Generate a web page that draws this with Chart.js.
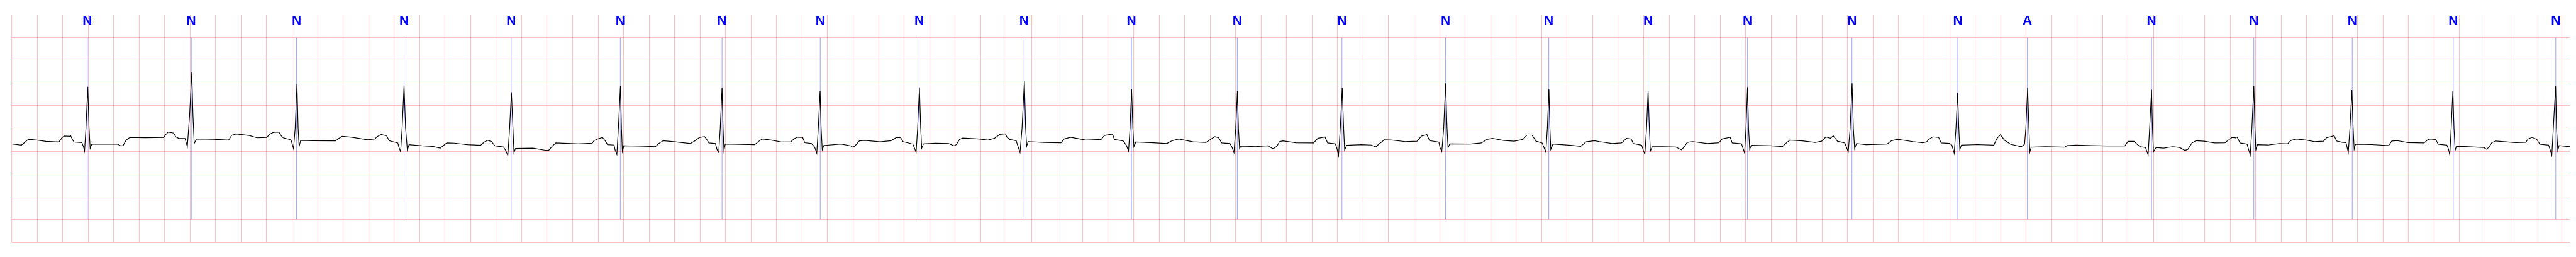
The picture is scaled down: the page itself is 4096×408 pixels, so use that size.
<!DOCTYPE html>
<html>
<head>
<meta charset="utf-8">
<title>ECG strip</title>
<script src="https://cdn.jsdelivr.net/npm/chart.js@4/dist/chart.umd.min.js"></script>
<style>
  html, body { margin: 0; padding: 0; background: #fff; }
  canvas { display: block; }
</style>
</head>
<body>
<canvas id="ecg" width="4096" height="408" style="width:4096px;height:408px"></canvas>
<script>
// beat annotations (time in s, symbol)
const annTimes = [0.593, 1.409, 2.235, 3.078, 3.918, 4.774, 5.572, 6.342, 7.118, 7.941,
  8.783, 9.613, 10.434, 11.247, 12.056, 12.835, 13.615, 14.434, 15.264, 15.810,
  16.784, 17.586, 18.358, 19.150, 19.954];
const annLabels = ['N','N','N','N','N','N','N','N','N','N','N','N','N','N','N','N','N','N','N','A',
  'N','N','N','N','N'];

// grid: 0.2 s columns, 0.5 mV rows
const xGrid = [];
for (let k = 0; k <= 100; k++) xGrid.push(+(k * 0.2).toFixed(1));
const yGrid = [-2.5, -2, -1.5, -1, -0.5, 0, 0.5, 1, 1.5, 2];

// signal, [time s, mV]
const ecg = [
  [0.000,-0.340],[0.077,-0.365],[0.107,-0.296],[0.131,-0.238],[0.197,-0.256],[0.269,-0.282],[0.371,-0.296],[0.395,-0.202],[0.413,-0.166],[0.455,-0.173],[0.463,-0.159],[0.479,-0.256],[0.491,-0.296],[0.551,-0.311],[0.563,-0.401],[0.572,-0.499],[0.583,0.014],[0.597,0.918],[0.607,0.014],[0.616,-0.437],[0.628,-0.347],[0.832,-0.347],[0.856,-0.383],[0.874,-0.376],[0.898,-0.256],[0.928,-0.195],[1.048,-0.202],[1.192,-0.195],[1.210,-0.130],[1.228,-0.079],[1.270,-0.101],[1.288,-0.184],[1.312,-0.220],[1.360,-0.220],[1.378,-0.401],[1.396,0.303],[1.413,1.250],[1.422,0.303],[1.432,-0.329],[1.450,-0.231],[1.588,-0.238],[1.702,-0.256],[1.726,-0.148],[1.762,-0.120],
  [1.865,-0.154],[1.925,-0.205],[2.002,-0.197],[2.022,-0.129],[2.053,-0.086],[2.096,-0.078],[2.113,-0.154],[2.130,-0.205],[2.182,-0.242],[2.193,-0.268],[2.211,-0.444],[2.224,0.010],[2.238,0.982],[2.247,0.010],[2.255,-0.394],[2.267,-0.263],[2.361,-0.268],[2.541,-0.273],[2.566,-0.217],[2.592,-0.172],[2.669,-0.192],[2.789,-0.247],[2.849,-0.230],[2.866,-0.179],[2.900,-0.129],[2.943,-0.167],[2.960,-0.268],[3.029,-0.318],[3.037,-0.407],[3.051,-0.513],[3.063,0.010],[3.078,0.949],[3.090,0.010],[3.104,-0.475],[3.117,-0.356],[3.217,-0.381],[3.302,-0.394],[3.362,-0.432],[3.384,-0.381],[3.413,-0.318],[3.473,-0.323],[3.575,-0.356],[3.678,-0.369],[3.704,-0.306],[3.733,-0.260],[3.764,-0.288],[3.790,-0.381],[3.858,-0.407],[3.875,-0.482],[3.892,-0.596],[3.906,0.010],[3.920,0.798],[3.932,0.010],[3.940,-0.533],[3.952,-0.439],[4.089,-0.432],[4.192,-0.482],[4.212,-0.482],[4.243,-0.381],[4.268,-0.318],[4.445,-0.338],
  [4.554,-0.323],[4.568,-0.268],[4.597,-0.230],[4.634,-0.197],[4.656,-0.273],[4.674,-0.356],[4.725,-0.364],[4.733,-0.470],[4.747,-0.571],[4.759,0.010],[4.775,0.944],[4.783,0.010],[4.790,-0.508],[4.802,-0.381],[4.930,-0.389],[5.050,-0.399],[5.076,-0.331],[5.110,-0.268],[5.204,-0.293],[5.324,-0.331],[5.354,-0.280],[5.396,-0.197],[5.435,-0.179],[5.452,-0.242],[5.469,-0.318],[5.520,-0.331],[5.532,-0.457],[5.546,-0.528],[5.558,0.010],[5.572,0.899],[5.580,0.010],[5.587,-0.482],[5.597,-0.343],[5.717,-0.348],[5.828,-0.356],[5.854,-0.293],[5.888,-0.230],[5.957,-0.255],[6.042,-0.298],[6.111,-0.293],[6.136,-0.230],[6.162,-0.192],[6.204,-0.197],[6.221,-0.313],[6.273,-0.331],[6.298,-0.407],[6.315,-0.545],[6.327,0.010],[6.341,0.831],[6.349,0.010],[6.358,-0.470],[6.370,-0.374],[6.504,-0.343],[6.581,-0.381],[6.598,-0.414],[6.615,-0.381],[6.649,-0.273],[6.692,-0.263],[6.812,-0.293],[6.897,-0.268],[6.940,-0.197],[6.974,-0.205],[6.991,-0.288],[7.068,-0.343],[7.080,-0.420],
  [7.094,-0.525],[7.106,0.010],[7.120,0.907],[7.130,0.010],[7.138,-0.432],[7.152,-0.338],[7.246,-0.323],[7.349,-0.331],[7.392,-0.381],[7.409,-0.356],[7.434,-0.242],[7.460,-0.210],[7.588,-0.230],[7.657,-0.255],[7.708,-0.217],[7.751,-0.129],[7.794,-0.116],[7.807,-0.192],[7.828,-0.242],[7.879,-0.268],[7.893,-0.394],[7.909,-0.528],[7.925,0.010],[7.943,1.040],[7.953,0.010],[7.961,-0.389],[7.973,-0.288],[8.101,-0.306],[8.230,-0.313],[8.255,-0.230],[8.306,-0.192],[8.425,-0.255],[8.545,-0.242],[8.571,-0.154],[8.615,-0.129],[8.635,-0.125],[8.649,-0.242],[8.717,-0.273],[8.743,-0.369],[8.760,-0.495],[8.772,0.010],[8.784,0.874],[8.794,0.010],[8.802,-0.399],[8.817,-0.298],[8.957,-0.313],[9.060,-0.331],[9.102,-0.268],[9.154,-0.230],[9.265,-0.293],[9.368,-0.306],[9.402,-0.242],[9.436,-0.179],[9.467,-0.205],[9.491,-0.318],[9.556,-0.331],[9.573,-0.419],[9.587,-0.533],[9.601,0.010],[9.614,0.823],[9.622,0.010],[9.631,-0.439],[9.641,-0.389],[9.758,-0.399],
  [9.851,-0.381],[9.894,-0.444],[9.923,-0.394],[9.945,-0.288],[9.971,-0.273],[10.074,-0.313],[10.211,-0.318],[10.245,-0.217],[10.301,-0.187],[10.322,-0.318],[10.382,-0.338],[10.395,-0.444],[10.407,-0.596],[10.421,0.010],[10.436,0.889],[10.447,0.010],[10.455,-0.475],[10.471,-0.369],[10.587,-0.356],[10.664,-0.364],[10.698,-0.407],[10.724,-0.343],[10.767,-0.247],[10.827,-0.255],[10.929,-0.288],[11.023,-0.280],[11.057,-0.167],[11.100,-0.136],[11.121,-0.268],[11.194,-0.298],[11.203,-0.419],[11.217,-0.508],[11.232,0.010],[11.247,0.995],[11.258,0.010],[11.266,-0.424],[11.280,-0.338],[11.442,-0.343],[11.528,-0.318],[11.571,-0.242],[11.613,-0.217],[11.699,-0.263],[11.784,-0.280],[11.853,-0.242],[11.884,-0.146],[11.925,-0.146],[11.956,-0.280],[12.004,-0.318],[12.019,-0.419],[12.033,-0.520],[12.045,0.010],[12.057,0.874],[12.065,0.010],[12.072,-0.457],[12.089,-0.343],[12.229,-0.369],[12.306,-0.394],[12.349,-0.293],[12.414,-0.268],
  [12.453,-0.288],[12.553,-0.331],[12.627,-0.318],[12.666,-0.217],[12.702,-0.230],[12.719,-0.331],[12.785,-0.369],[12.798,-0.482],[12.810,-0.566],[12.823,0.010],[12.835,0.823],[12.845,0.010],[12.853,-0.495],[12.868,-0.399],[12.951,-0.399],[13.051,-0.407],[13.097,-0.470],[13.117,-0.407],[13.142,-0.306],[13.183,-0.288],[13.300,-0.331],[13.391,-0.313],[13.416,-0.230],[13.479,-0.192],[13.495,-0.318],[13.568,-0.338],[13.578,-0.419],[13.592,-0.540],[13.603,0.010],[13.615,0.914],[13.623,0.010],[13.632,-0.457],[13.645,-0.369],[13.798,-0.381],[13.889,-0.399],[13.914,-0.331],[13.947,-0.255],[14.046,-0.273],[14.146,-0.306],[14.196,-0.280],[14.229,-0.187],[14.266,-0.212],[14.287,-0.162],[14.320,-0.280],[14.378,-0.318],[14.392,-0.419],[14.405,-0.513],[14.420,0.010],[14.435,0.995],[14.445,0.010],[14.455,-0.444],[14.470,-0.331],[14.544,-0.356],[14.710,-0.343],[14.744,-0.268],[14.793,-0.237],[14.910,-0.288],[14.989,-0.313],
  [15.020,-0.293],[15.038,-0.238],[15.068,-0.184],[15.114,-0.195],[15.134,-0.318],[15.200,-0.329],[15.218,-0.365],[15.236,-0.546],[15.250,0.010],[15.263,0.788],[15.272,0.010],[15.280,-0.462],[15.293,-0.365],[15.415,-0.354],[15.547,-0.365],[15.571,-0.220],[15.598,-0.137],[15.630,-0.256],[15.678,-0.347],[15.762,-0.401],[15.788,-0.347],[15.798,0.010],[15.812,0.900],[15.822,0.010],[15.829,-0.520],[15.840,-0.412],[15.953,-0.401],[16.103,-0.412],[16.121,-0.376],[16.193,-0.365],[16.312,-0.376],[16.432,-0.383],[16.575,-0.383],[16.599,-0.282],[16.647,-0.282],[16.671,-0.347],[16.695,-0.401],[16.737,-0.419],[16.757,-0.582],[16.769,0.010],[16.784,0.853],[16.791,0.010],[16.799,-0.515],
  [16.819,-0.419],[16.878,-0.432],[16.951,-0.399],[17.005,-0.419],[17.046,-0.482],[17.069,-0.457],[17.101,-0.318],[17.133,-0.268],[17.196,-0.280],[17.278,-0.318],[17.360,-0.313],[17.387,-0.255],[17.415,-0.197],[17.442,-0.205],[17.455,-0.187],[17.478,-0.318],[17.533,-0.343],[17.546,-0.470],[17.558,-0.583],[17.571,0.010],[17.586,0.944],[17.595,0.010],[17.602,-0.470],[17.615,-0.356],[17.696,-0.364],[17.787,-0.331],[17.851,-0.338],[17.874,-0.268],[17.915,-0.230],[17.996,-0.255],[18.060,-0.288],[18.133,-0.280],[18.155,-0.205],[18.192,-0.179],
  [18.216,-0.159],[18.235,-0.275],[18.278,-0.303],[18.309,-0.311],[18.327,-0.527],[18.340,0.010],[18.355,0.845],[18.365,0.010],[18.373,-0.455],[18.383,-0.347],[18.513,-0.354],[18.643,-0.376],[18.668,-0.275],[18.711,-0.267],[18.797,-0.311],[18.921,-0.318],[18.946,-0.256],[18.968,-0.231],[19.014,-0.246],[19.032,-0.347],[19.100,-0.365],[19.113,-0.455],[19.123,-0.582],[19.134,0.010],[19.147,0.827],[19.156,0.010],[19.165,-0.484],[19.175,-0.390],[19.267,-0.401],[19.391,-0.419],[19.410,-0.455],[19.428,-0.419],[19.453,-0.311],[19.484,-0.275],[19.638,-0.311],[19.719,-0.303],[19.737,-0.231],[19.768,-0.195],[19.805,-0.238],[19.830,-0.347],[19.898,-0.365],[19.911,-0.473],[19.923,-0.592],[19.935,0.010],[19.953,0.936],[19.960,0.010],[19.970,-0.484],[19.980,-0.376],[20.064,-0.401]
];

const GRID = 'rgba(255, 0, 0, 0.25)';

// vertical marker per annotation, from -2 to +2 mV
const markerPts = annTimes.flatMap(t => [{x: t, y: -2}, {x: t, y: 2}, {x: t, y: null}]);

const annLabelPlugin = {
  id: 'annLabels',
  afterDatasetsDraw(chart) {
    const {ctx, chartArea, scales} = chart;
    ctx.save();
    ctx.fillStyle = '#0000ff';
    ctx.font = 'bold 21px "Liberation Sans", Arial, sans-serif';
    ctx.textAlign = 'center';
    ctx.textBaseline = 'alphabetic';
    annTimes.forEach((t, i) => {
      ctx.fillText(annLabels[i], scales.x.getPixelForValue(t), chartArea.top + 15);
    });
    ctx.restore();
  }
};

new Chart(document.getElementById('ecg').getContext('2d'), {
  type: 'line',
  data: {
    datasets: [
      {
        label: 'ECG',
        data: ecg.map(([x, y]) => ({x, y})),
        borderColor: '#000000',
        borderWidth: 1.2,
        pointRadius: 0,
        tension: 0,
        fill: false,
        order: 1
      },
      {
        label: 'markers',
        data: markerPts,
        borderColor: 'rgba(0, 0, 255, 0.55)',
        borderWidth: 0.7,
        pointRadius: 0,
        spanGaps: false,
        fill: false,
        order: 2
      }
    ]
  },
  options: {
    responsive: false,
    animation: false,
    devicePixelRatio: 1,
    layout: { padding: { left: 18.5, top: 23.9, right: 9.7, bottom: 23.9 } },
    plugins: { legend: { display: false }, tooltip: { enabled: false } },
    scales: {
      x: {
        type: 'linear',
        min: 0,
        max: 20.065,
        border: { display: false },
        grid: { color: GRID, lineWidth: 1, drawTicks: false },
        ticks: { display: false },
        afterBuildTicks: s => { s.ticks = xGrid.map(v => ({value: v})); }
      },
      y: {
        type: 'linear',
        min: -2.5,
        max: 2.5,
        border: { display: false },
        grid: { color: GRID, lineWidth: 1, drawTicks: false },
        ticks: { display: false },
        afterBuildTicks: s => { s.ticks = yGrid.map(v => ({value: v})); }
      }
    }
  },
  plugins: [annLabelPlugin]
});
</script>
</body>
</html>
